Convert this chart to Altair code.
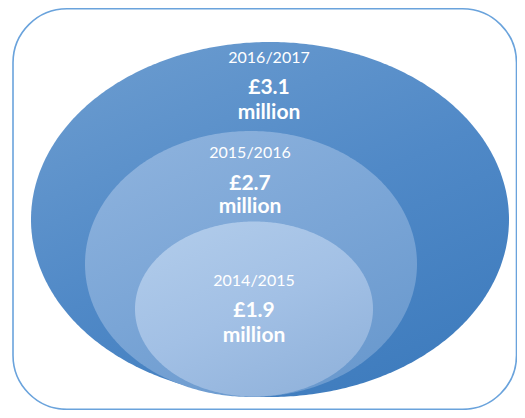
import altair as alt
import numpy as np
import pandas as pd

# ---- data ----
years = ["2016/2017", "2015/2016", "2014/2015"]
amounts = ["£3.1", "£2.7", "£1.9"]
units = ["million", "million", "million"]

# ---- geometry (reference pixel coordinates) / styles ----
W, H = 509, 402
X0, Y0 = 8, 8
ell_cx = [270, 251, 254]
ell_cy = [219.5, 264, 309]
ell_a = [239, 166, 119]
ell_b = [177.5, 133, 87.5]
grad_stops = [
    [("#6a9bcf", 0.0), ("#5089c7", 0.5), ("#3d7bbd", 1.0)],
    [("#8db2dd", 0.0), ("#7aa5d6", 0.5), ("#6898cd", 1.0)],
    [("#b0cbea", 0.0), ("#a2c0e5", 0.5), ("#90b2db", 1.0)],
]
year_y = [63, 158, 286]
amt_y = [94, 190, 317]
unit_y = [119, 213, 342]
text_x = [269, 250, 254]

xs = alt.Scale(domain=[X0, X0 + W], nice=False, zero=False)
ys = alt.Scale(domain=[Y0, Y0 + H], nice=False, zero=False, reverse=True)

# border rounded rectangle
border_df = pd.DataFrame({"x": [13.0], "x2": [516.5], "y": [8.8], "y2": [409.3]})
border = alt.Chart(border_df).mark_rect(
    fill="white", stroke="#6aa3dc", strokeWidth=1.6, cornerRadius=54
).encode(
    x=alt.X("x:Q", scale=xs, axis=None),
    x2="x2:Q",
    y=alt.Y("y:Q", scale=ys, axis=None),
    y2="y2:Q",
)

layers = [border]
n = 240
theta = np.linspace(0, np.pi, n)
for i in range(3):
    ex = ell_cx[i] - ell_a[i] * np.cos(theta)
    ytop = ell_cy[i] - ell_b[i] * np.sin(theta)
    ybot = ell_cy[i] + ell_b[i] * np.sin(theta)
    df = pd.DataFrame({"ex": ex, "ey": ytop, "ey2": ybot})
    stops = [alt.GradientStop(color=c, offset=o) for c, o in grad_stops[i]]
    area = alt.Chart(df).mark_area(
        fill=alt.Gradient(gradient="linear", stops=stops, x1=0.2, y1=0, x2=0.8, y2=1),
        fillOpacity=1,
        interpolate="linear",
    ).encode(
        x=alt.X("ex:Q", scale=xs, axis=None),
        y=alt.Y("ey:Q", scale=ys, axis=None),
        y2="ey2:Q",
    )
    layers.append(area)

tdf = pd.DataFrame({
    "year": years, "amount": amounts, "unit": units,
    "tx": text_x, "yy": year_y, "ay": amt_y, "uy": unit_y,
})

font = "Lato"
t_year = alt.Chart(tdf).mark_text(
    font=font, fontSize=16, color="white", baseline="alphabetic", align="center"
).encode(x=alt.X("tx:Q", scale=xs, axis=None), y=alt.Y("yy:Q", scale=ys, axis=None), text="year:N")
t_amt = alt.Chart(tdf).mark_text(
    font=font, fontSize=21, fontWeight="bold", color="white", baseline="alphabetic", align="center"
).encode(x=alt.X("tx:Q", scale=xs, axis=None), y=alt.Y("ay:Q", scale=ys, axis=None), text="amount:N")
t_unit = alt.Chart(tdf).mark_text(
    font=font, fontSize=21, fontWeight="bold", color="white", baseline="alphabetic", align="center"
).encode(x=alt.X("tx:Q", scale=xs, axis=None), y=alt.Y("uy:Q", scale=ys, axis=None), text="unit:N")

layers += [t_year, t_amt, t_unit]

chart = alt.layer(*layers).properties(
    width=W, height=H, padding=0, autosize=alt.AutoSizeParams(type="none")
).configure_view(stroke=None, clip=False)

chart.save("out.html", embed_options={"renderer": "svg", "actions": False})
